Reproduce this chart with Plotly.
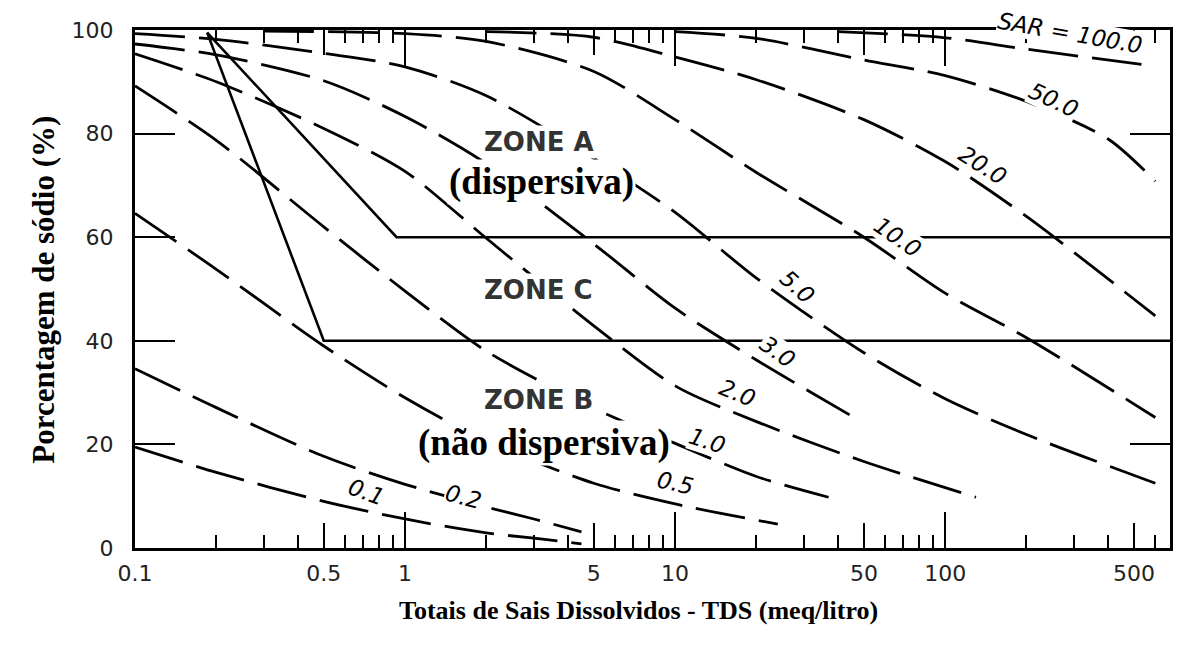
import math
import plotly.graph_objects as go

# ---- SAR curves: total dissolved salts (meq/litro) vs. sodium percentage ----
tds_sar_0_1 = [0.1, 0.2, 0.5, 1, 2, 3, 4.5]
pct_sar_0_1 = [19.5, 14.6, 9.0, 5.6, 2.9, 1.9, 0.8]

tds_sar_0_2 = [0.1, 0.2, 0.5, 1, 2, 3, 4.5]
pct_sar_0_2 = [34.6, 27.1, 17.7, 12.3, 7.9, 5.6, 3.1]

tds_sar_0_5 = [0.1, 0.2, 0.5, 1, 2, 5, 10, 24]
pct_sar_0_5 = [64.6, 53.8, 39.0, 29.0, 20.6, 12.5, 8.5, 4.6]

tds_sar_1 = [0.1, 0.2, 0.5, 1, 2, 5, 10, 20, 37]
pct_sar_1 = [89.2, 78.7, 62.0, 49.6, 38.0, 27.0, 20.2, 13.8, 9.8]

tds_sar_2 = [0.1, 0.2, 0.5, 1, 2, 5, 10, 20, 50, 130]
pct_sar_2 = [95.4, 90.0, 81.0, 72.7, 59.8, 42.9, 31.3, 24.4, 16.7, 9.8]

tds_sar_3 = [0.1, 0.2, 0.5, 1, 2, 5, 10, 20, 46]
pct_sar_3 = [97.3, 95.2, 90.2, 83.3, 74.2, 58.7, 46.3, 36.3, 25.2]

tds_sar_5 = [0.1, 0.2, 0.5, 1, 2, 5, 10, 20, 50, 100, 200, 600]
pct_sar_5 = [99.3, 98.2, 95.5, 92.9, 87.3, 75.2, 64.8, 52.1, 37.7, 28.8, 21.9, 12.5]

tds_sar_10 = [0.3, 1, 2, 5, 10, 20, 50, 100, 200, 600]
pct_sar_10 = [99.8, 99.3, 97.8, 92.0, 82.7, 72.5, 60.0, 49.2, 40.6, 25.2]

tds_sar_20 = [2, 5, 10, 20, 50, 100, 200, 600]
pct_sar_20 = [99.7, 98.6, 94.8, 90.4, 82.7, 74.6, 64.0, 44.8]

tds_sar_50 = [10, 20, 50, 100, 200, 400, 600]
pct_sar_50 = [99.7, 98.4, 94.2, 91.2, 86.2, 79.0, 70.8]

tds_sar_100 = [40, 100, 200, 600]
pct_sar_100 = [99.7, 98.5, 96.3, 93.0]

# ---- Zone boundaries ----
tds_zone_ac = [0.185, 0.93, 680]
pct_zone_ac = [99.5, 60, 60]
tds_zone_cb = [0.185, 0.5, 680]
pct_zone_cb = [99.5, 40, 40]

# ---- Axis ticks ----
x_major = [0.1, 0.5, 1, 5, 10, 50, 100, 500]
x_major_text = ["0.1", "0.5", "1", "5", "10", "50", "100", "500"]
x_decades = [1, 10, 100]
x_minor = [0.2, 0.3, 0.4, 0.6, 0.7, 0.8, 0.9,
           2, 3, 4, 6, 7, 8, 9,
           20, 30, 40, 60, 70, 80, 90,
           200, 300, 400, 600]
y_ticks = [0, 20, 40, 60, 80, 100]

curves = [
    (tds_sar_0_1, pct_sar_0_1), (tds_sar_0_2, pct_sar_0_2),
    (tds_sar_0_5, pct_sar_0_5), (tds_sar_1, pct_sar_1),
    (tds_sar_2, pct_sar_2), (tds_sar_3, pct_sar_3),
    (tds_sar_5, pct_sar_5), (tds_sar_10, pct_sar_10),
    (tds_sar_20, pct_sar_20), (tds_sar_50, pct_sar_50),
    (tds_sar_100, pct_sar_100),
]

fig = go.Figure()

for tds, pct in curves:
    fig.add_trace(go.Scatter(
        x=tds, y=pct, mode="lines",
        line=dict(color="black", width=2.8, dash="50px,14px",
                  shape="spline", smoothing=0.8),
        hoverinfo="skip", showlegend=False,
    ))

for tds, pct in [(tds_zone_ac, pct_zone_ac), (tds_zone_cb, pct_zone_cb)]:
    fig.add_trace(go.Scatter(
        x=tds, y=pct, mode="lines", xaxis="x2",
        line=dict(color="black", width=2.6),
        hoverinfo="skip", showlegend=False,
    ))

x_range = [-1, math.log10(680)]
tick_font = dict(family="DejaVu Sans", size=22, color="#222")

fig.update_layout(
    width=1180, height=653,
    margin=dict(l=135, r=7, t=30, b=105),
    paper_bgcolor="white", plot_bgcolor="white",
    showlegend=False,
    xaxis=dict(
        type="log", range=x_range,
        tickmode="array", tickvals=x_major, ticktext=x_major_text,
        ticks="inside", ticklen=25, tickwidth=2.2, tickcolor="black",
        showline=True, linecolor="black", linewidth=3, mirror="ticks",
        showgrid=False, zeroline=False,
        tickfont=tick_font, ticklabelstandoff=4,
        minor=dict(tickmode="array", tickvals=x_minor, ticks="inside",
                   ticklen=13, tickwidth=2, tickcolor="black", showgrid=False),
    ),
    xaxis2=dict(
        type="log", range=x_range, overlaying="x", anchor="y", side="bottom",
        tickmode="array", tickvals=x_decades,
        ticks="inside", ticklen=36, tickwidth=2.2, tickcolor="black",
        showticklabels=False, showline=False, mirror="ticks",
        showgrid=False, zeroline=False,
    ),
    yaxis=dict(
        range=[0, 100], tickmode="array", tickvals=y_ticks,
        ticks="inside", ticklen=40, tickwidth=2.2, tickcolor="black",
        showline=True, linecolor="black", linewidth=3, mirror="ticks",
        showgrid=False, zeroline=False,
        tickfont=tick_font, ticklabelstandoff=14,
    ),
)

serif_bold = "Liberation Serif"
zone_font = dict(family="DejaVu Sans", size=26, color="#333", weight="bold")
label_font = dict(family="DejaVu Sans", size=23, color="black")

annotations = []

# zone names
for text, tds, pct in [("ZONE A", 3.12, 78.4), ("ZONE C", 3.12, 49.8),
                       ("ZONE B", 3.12, 28.6)]:
    annotations.append(dict(x=math.log10(tds), y=pct, text=text,
                            showarrow=False, font=zone_font,
                            bgcolor="white", borderpad=1))

for text, tds, pct in [("<b>(dispersiva)</b>", 3.2, 70.7),
                       ("<b>(não dispersiva)</b>", 3.28, 20.3)]:
    annotations.append(dict(x=math.log10(tds), y=pct, text=text,
                            showarrow=False, bgcolor="white", borderpad=1,
                            font=dict(family=serif_bold, size=37, color="black")))

# SAR curve labels
for text, tds, pct, angle in [
    ("0.1", 0.72, 10.8, 20), ("0.2", 1.65, 9.8, 15), ("0.5", 10, 12.5, 12),
    ("1.0", 13.2, 20.7, 18), ("2.0", 17, 29.9, 22), ("3.0", 24, 37.8, 35),
    ("5.0", 28.4, 50.4, 42), ("10.0", 66.5, 60.0, 35), ("20.0", 137, 73.9, 32),
    ("50.0", 252, 86.5, 25), ("SAR = 100.0", 290, 99.4, 10),
]:
    annotations.append(dict(x=math.log10(tds), y=pct, text="<i>" + text + "</i>",
                            showarrow=False, textangle=angle, font=label_font,
                            bgcolor="white", borderpad=0))

# axis titles
annotations.append(dict(
    xref="paper", yref="paper", x=0.4865, y=-0.1525,
    text="<b>Totais de Sais Dissolvidos - TDS (meq/litro)</b>",
    showarrow=False, font=dict(family=serif_bold, size=26, color="black"),
))
annotations.append(dict(
    xref="paper", yref="paper", x=-0.108, y=0.498, textangle=-90,
    text="<b>Porcentagem de sódio (%)</b>",
    showarrow=False, font=dict(family=serif_bold, size=31, color="black"),
))

fig.update_layout(annotations=annotations)

fig.write_html("out.html")
